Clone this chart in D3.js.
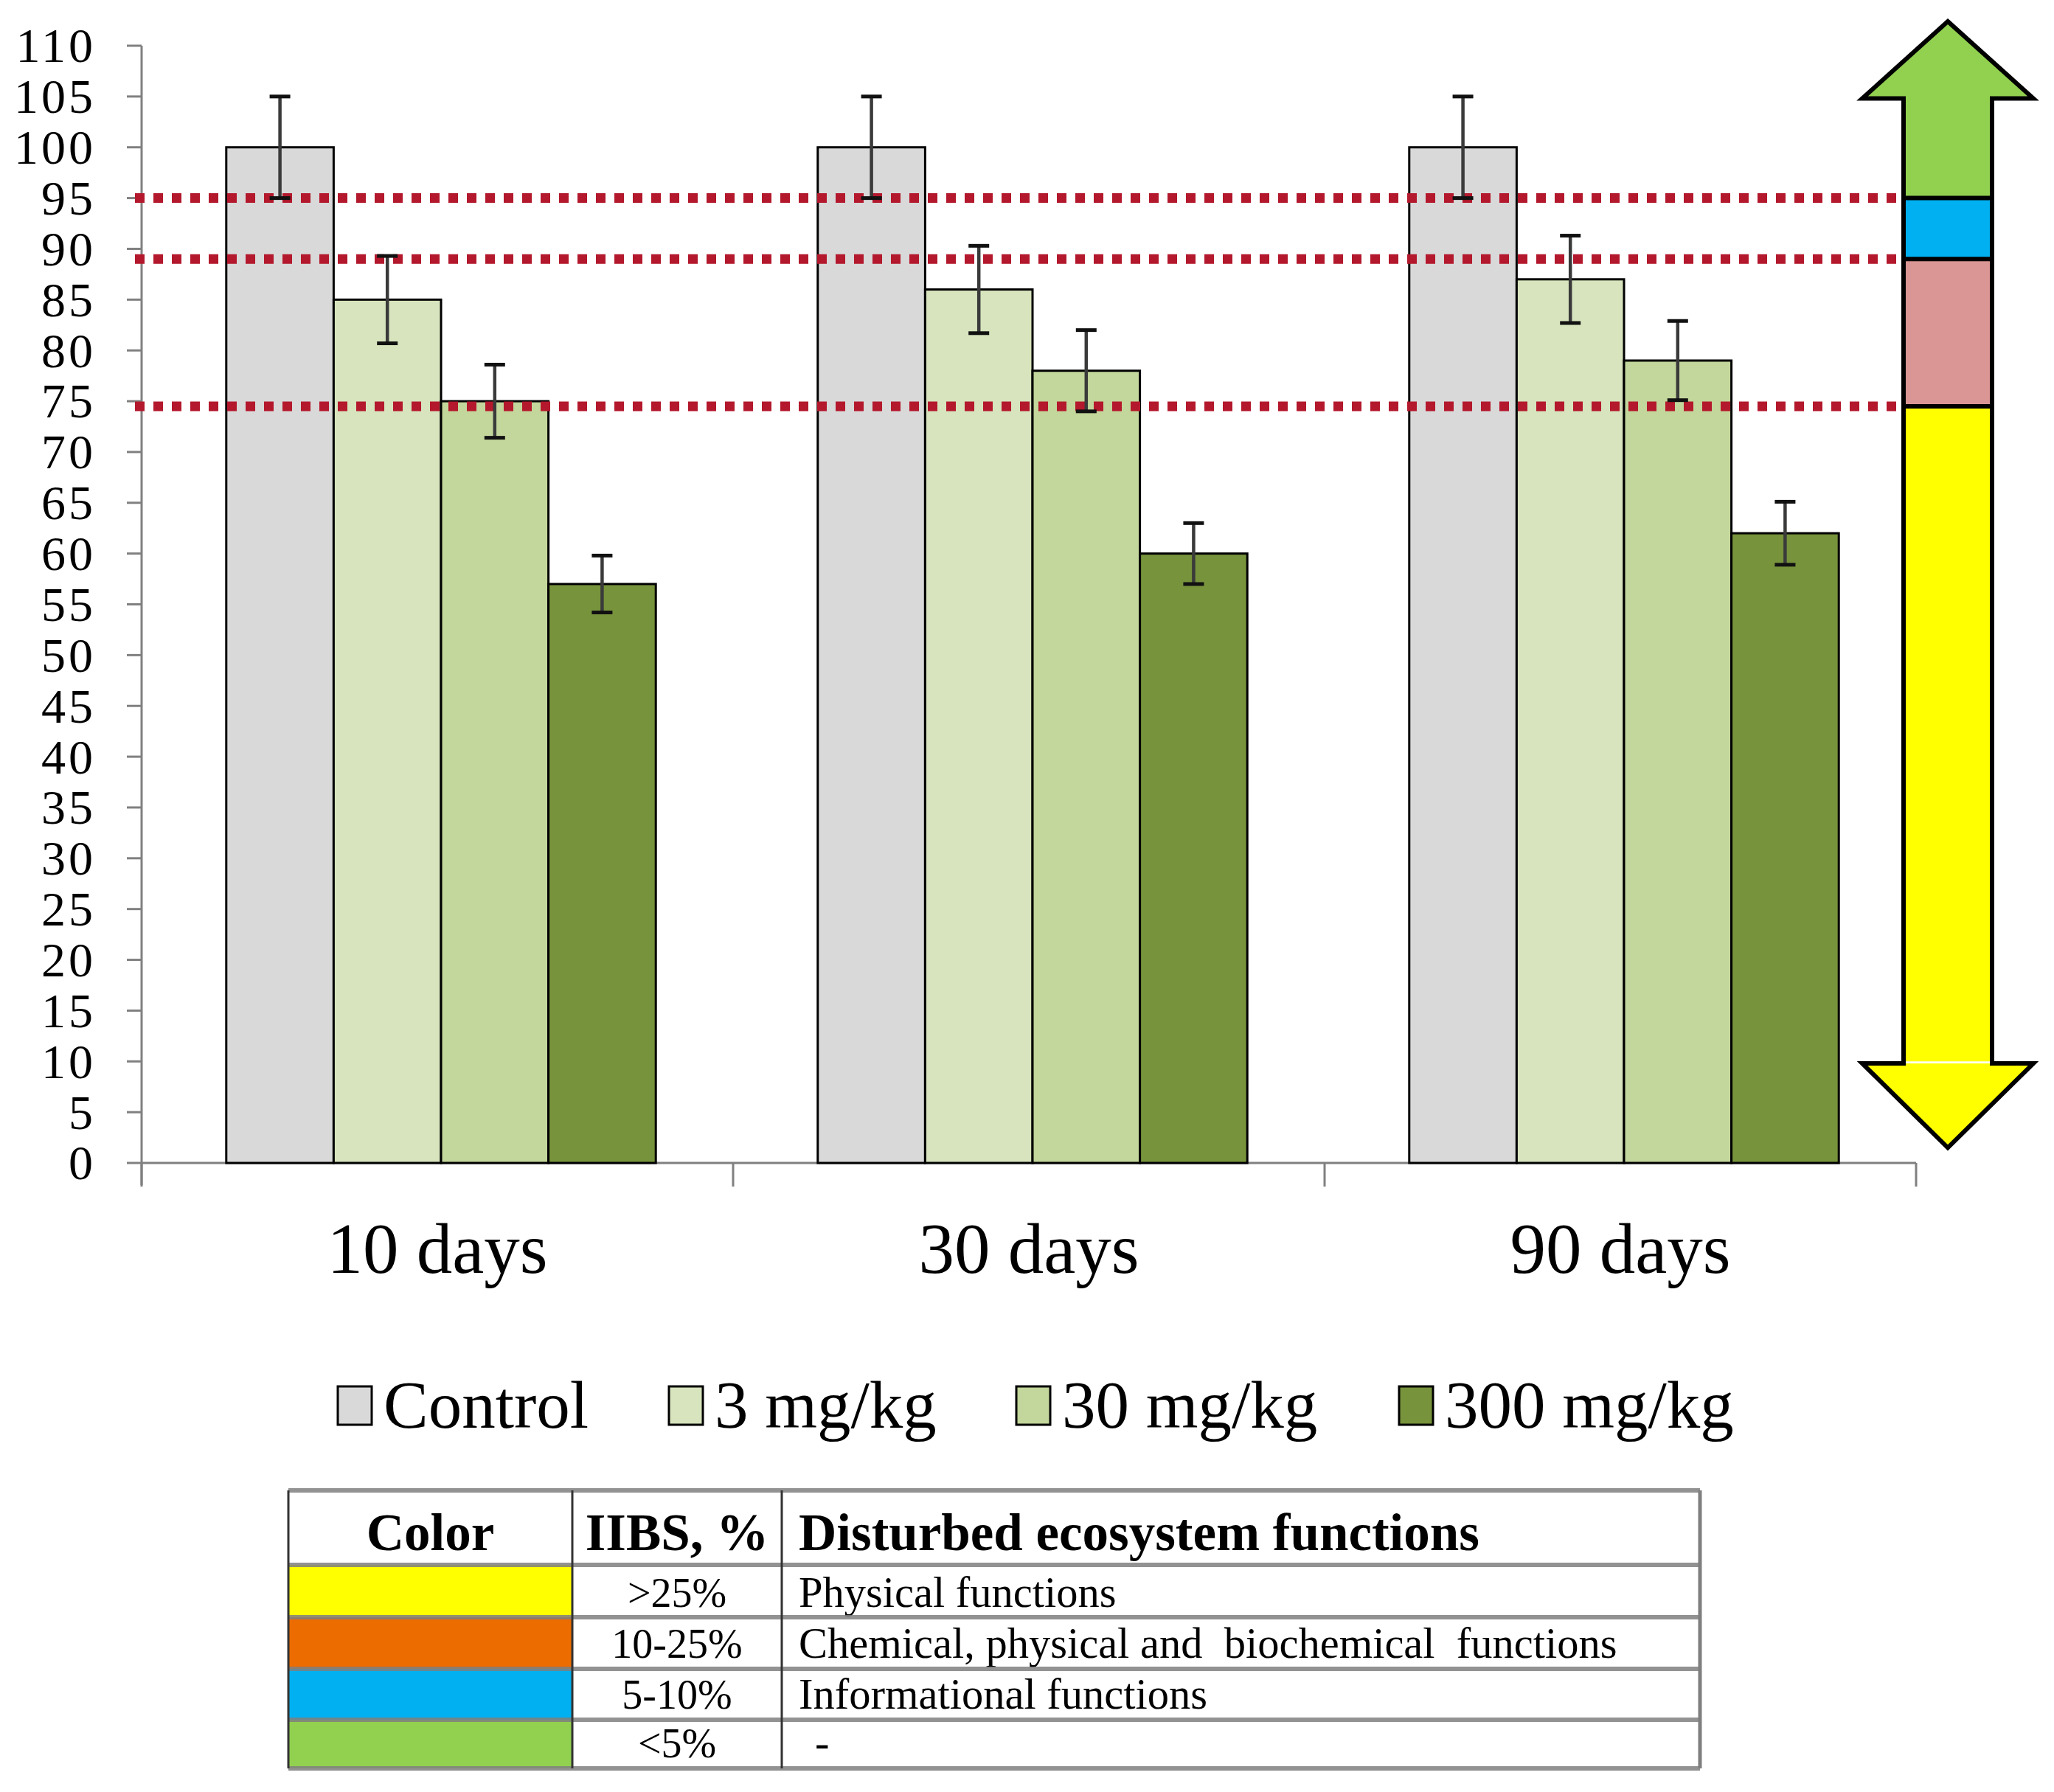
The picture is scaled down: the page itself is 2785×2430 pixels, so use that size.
<!DOCTYPE html>
<html>
<head>
<meta charset="utf-8">
<script src="https://cdn.jsdelivr.net/npm/d3@7"></script>
<style>
  html, body { margin: 0; padding: 0; background: #fff; }
  svg { display: block; }
  text { font-family: "Liberation Serif", "Times New Roman", serif; fill: #000; }
</style>
</head>
<body>
<svg id="chart" width="2785" height="2430"></svg>
<script>
// ---------------- DATA ----------------
const categories = ["10 days", "30 days", "90 days"];
const seriesNames = ["Control", "3 mg/kg", "30 mg/kg", "300 mg/kg"];
const seriesColors = ["#d9d9d9", "#d7e4bd", "#c3d69b", "#77933c"];
const controlValues = [100, 100, 100];
const mg3Values = [85, 86, 87];
const mg30Values = [75, 78, 79];
const mg300Values = [57, 60, 62];
const controlErr = [5, 5, 5];
const mg3Err = [4.3, 4.3, 4.3];
const mg30Err = [3.6, 4.0, 3.9];
const mg300Err = [2.8, 3.0, 3.1];
const yTicks = [0,5,10,15,20,25,30,35,40,45,50,55,60,65,70,75,80,85,90,95,100,105,110];
const thresholds = [95, 89, 74.5];
// arrow bands (value ranges) and colours
const arrowBands = [
  { from: 95, to: 105, color: "#92d050" },
  { from: 89, to: 95, color: "#00b0f0" },
  { from: 74.5, to: 89, color: "#d99694" },
  { from: 10, to: 74.5, color: "#ffff00" }
];
const arrowTipTop = 112.4, arrowHeadTop = 104.8, arrowHeadBottom = 9.8, arrowTipBottom = 1.5;
// table
const tableHeader = ["Color", "IIBS, %", "Disturbed ecosystem functions"];
const tableColors = ["#ffff00", "#ec6c00", "#00b0f0", "#92d050"];
const tableIIBS = [">25%", "10-25%", "5-10%", "<5%"];
const tableFunctions = ["Physical functions", "Chemical, physical and  biochemical  functions", "Informational functions", "-"];

const seriesValues = [controlValues, mg3Values, mg30Values, mg300Values];
const seriesErr = [controlErr, mg3Err, mg30Err, mg300Err];

// ---------------- LAYOUT ----------------
const svg = d3.select("#chart");
const plotLeft = 192, plotRight = 2598, plotTop = 62, plotBottom = 1577;

const y = d3.scaleLinear().domain([0, 110]).range([plotBottom, plotTop]);
const x0 = d3.scaleBand().domain(categories).range([plotLeft, plotRight]).paddingInner(0).paddingOuter(0);
const x1 = d3.scaleBand().domain(seriesNames).range([5, x0.bandwidth() + 5]).paddingInner(0).paddingOuter(0.754);

const axisColor = "#808080";

// Y axis
const yAxisG = svg.append("g").attr("transform", `translate(${plotLeft},0)`);
yAxisG.append("line").attr("x1", 0).attr("x2", 0).attr("y1", y(110)).attr("y2", plotBottom + 30)
  .attr("stroke", axisColor).attr("stroke-width", 3);
yAxisG.selectAll("line.tick").data(yTicks).enter().append("line").attr("class", "tick")
  .attr("x1", -20).attr("x2", 0).attr("y1", d => y(d)).attr("y2", d => y(d))
  .attr("stroke", axisColor).attr("stroke-width", 3);
svg.append("g").selectAll("text").data(yTicks).enter().append("text")
  .attr("x", 130).attr("y", d => y(d)).attr("dy", "0.34em")
  .attr("text-anchor", "end").attr("font-size", 66).attr("letter-spacing", 4)
  .text(d => d);

// X axis
svg.append("line").attr("x1", plotLeft).attr("x2", plotRight).attr("y1", plotBottom).attr("y2", plotBottom)
  .attr("stroke", axisColor).attr("stroke-width", 3);
const catEdges = categories.map(c => x0(c)).concat([x0(categories[categories.length - 1]) + x0.bandwidth()]);
svg.append("g").selectAll("line").data(catEdges).enter().append("line")
  .attr("x1", d => d).attr("x2", d => d).attr("y1", plotBottom).attr("y2", plotBottom + 32)
  .attr("stroke", axisColor).attr("stroke-width", 3);
svg.append("g").selectAll("text").data(categories).enter().append("text")
  .attr("x", d => x0(d) + x0.bandwidth() / 2).attr("y", 1726)
  .attr("text-anchor", "middle").attr("font-size", 97).text(d => d);

// Bars
const barData = [];
categories.forEach((c, ci) => {
  seriesNames.forEach((s, si) => {
    barData.push({ cat: c, series: s, si, value: seriesValues[si][ci], err: seriesErr[si][ci] });
  });
});
svg.append("g").selectAll("rect").data(barData).enter().append("rect")
  .attr("x", d => x0(d.cat) + x1(d.series))
  .attr("y", d => y(d.value))
  .attr("width", x1.bandwidth())
  .attr("height", d => y(0) - y(d.value))
  .attr("fill", d => seriesColors[d.si])
  .attr("stroke", "#000").attr("stroke-width", 3);

// Threshold dotted lines
svg.append("g").selectAll("line").data(thresholds).enter().append("line")
  .attr("x1", 183).attr("x2", 2580).attr("y1", d => y(d)).attr("y2", d => y(d))
  .attr("stroke", "#b3182c").attr("stroke-width", 13).attr("stroke-dasharray", "13,12");

// Error bars
const eb = svg.append("g");
barData.forEach(d => {
  const cx = x0(d.cat) + x1(d.series) + x1.bandwidth() / 2;
  eb.append("line").attr("x1", cx).attr("x2", cx).attr("y1", y(d.value + d.err)).attr("y2", y(d.value - d.err))
    .attr("stroke", "#3a3a3a").attr("stroke-width", 4.5);
  [d.value + d.err, d.value - d.err].forEach(v => {
    eb.append("line").attr("x1", cx - 14).attr("x2", cx + 14).attr("y1", y(v)).attr("y2", y(v))
      .attr("stroke", "#111").attr("stroke-width", 5);
  });
});

// Double arrow
const ax = 2641, headHalf = 116, shaftHalf = 60;
const arrowG = svg.append("g");
arrowBands.forEach(b => {
  arrowG.append("rect").attr("x", ax - shaftHalf).attr("width", shaftHalf * 2)
    .attr("y", y(b.to)).attr("height", y(b.from) - y(b.to)).attr("fill", b.color);
});
arrowG.append("path")
  .attr("d", `M${ax},${y(arrowTipTop)} L${ax + headHalf},${y(arrowHeadTop)} L${ax - headHalf},${y(arrowHeadTop)} Z`)
  .attr("fill", "#92d050");
arrowG.append("path")
  .attr("d", `M${ax},${y(arrowTipBottom)} L${ax + headHalf},${y(arrowHeadBottom)} L${ax - headHalf},${y(arrowHeadBottom)} Z`)
  .attr("fill", "#ffff00");
const outline = [
  [ax, y(arrowTipTop)], [ax + headHalf, y(arrowHeadTop)], [ax + shaftHalf, y(arrowHeadTop)],
  [ax + shaftHalf, y(arrowHeadBottom)], [ax + headHalf, y(arrowHeadBottom)], [ax, y(arrowTipBottom)],
  [ax - headHalf, y(arrowHeadBottom)], [ax - shaftHalf, y(arrowHeadBottom)], [ax - shaftHalf, y(arrowHeadTop)],
  [ax - headHalf, y(arrowHeadTop)]
];
arrowG.append("path").attr("d", "M" + outline.map(p => p.join(",")).join("L") + "Z")
  .attr("fill", "none").attr("stroke", "#000").attr("stroke-width", 6).attr("stroke-linejoin", "miter");
thresholds.forEach(t => {
  arrowG.append("line").attr("x1", ax - shaftHalf).attr("x2", ax + shaftHalf).attr("y1", y(t)).attr("y2", y(t))
    .attr("stroke", "#000").attr("stroke-width", 6);
});

// Legend
const legendX = [458, 907, 1378, 1897];
const legendG = svg.append("g");
seriesNames.forEach((s, i) => {
  legendG.append("rect").attr("x", legendX[i]).attr("y", 1880).attr("width", 46).attr("height", 52)
    .attr("fill", seriesColors[i]).attr("stroke", "#000").attr("stroke-width", 3);
  legendG.append("text").attr("x", legendX[i] + 62).attr("y", 1936).attr("font-size", 91).text(s);
});

// Table
const tX = [391, 776, 1060, 2305];
const tY = [2021, 2122, 2193, 2263, 2332, 2398];
const tableG = svg.append("g");
tableColors.forEach((c, i) => {
  tableG.append("rect").attr("x", tX[0]).attr("y", tY[i + 1]).attr("width", tX[1] - tX[0])
    .attr("height", tY[i + 2] - tY[i + 1]).attr("fill", c);
});
tableG.append("text").attr("x", (tX[0] + tX[1]) / 2).attr("y", 2102).attr("text-anchor", "middle")
  .attr("font-size", 71).attr("font-weight", "bold").text(tableHeader[0]);
tableG.append("text").attr("x", (tX[1] + tX[2]) / 2).attr("y", 2102).attr("text-anchor", "middle")
  .attr("font-size", 71).attr("font-weight", "bold").text(tableHeader[1]);
tableG.append("text").attr("x", 1083).attr("y", 2102)
  .attr("font-size", 71).attr("font-weight", "bold").text(tableHeader[2]);
const rowBase = [2179, 2248, 2317, 2383];
tableIIBS.forEach((t, i) => {
  tableG.append("text").attr("x", (tX[1] + tX[2]) / 2).attr("y", rowBase[i]).attr("text-anchor", "middle")
    .attr("font-size", 56).text(t);
  tableG.append("text").attr("x", i === 3 ? 1105 : 1083).attr("y", rowBase[i]).attr("font-size", 58.5)
    .style("white-space", "pre").text(tableFunctions[i]);
});
tY.forEach(yy => {
  tableG.append("line").attr("x1", tX[0]).attr("x2", tX[3]).attr("y1", yy).attr("y2", yy)
    .attr("stroke", "#7f7f7f").attr("stroke-width", 6).attr("opacity", 0.85);
});
tX.forEach((xx, i) => {
  tableG.append("line").attr("x1", xx).attr("x2", xx).attr("y1", tY[0]).attr("y2", tY[tY.length - 1])
    .attr("stroke", i === 3 ? "#7f7f7f" : "#333").attr("stroke-width", i === 3 ? 5 : 3);
});
</script>
</body>
</html>
